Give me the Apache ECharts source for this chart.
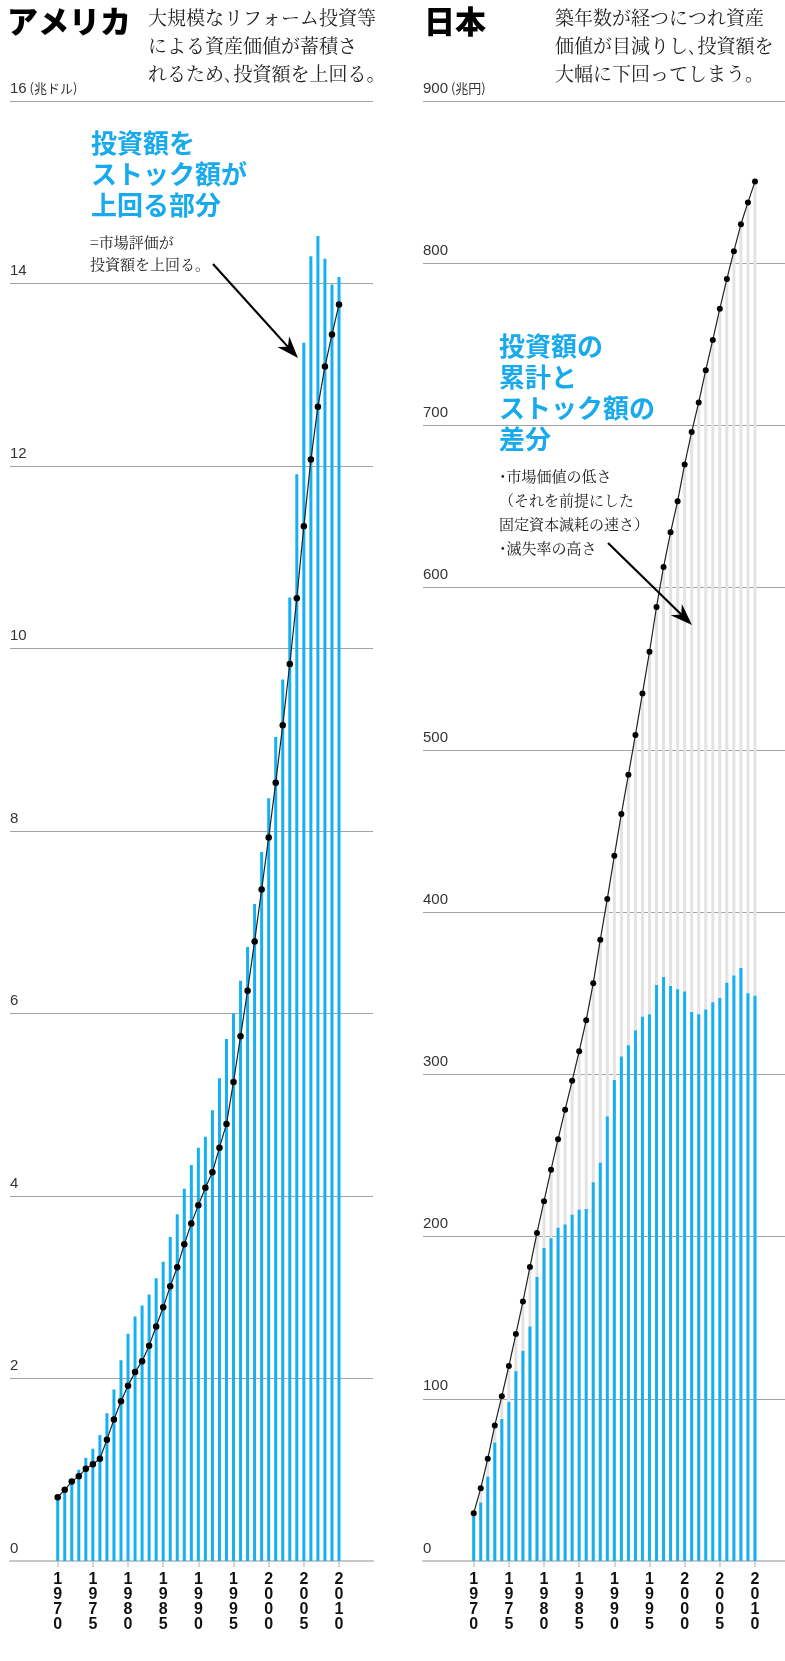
<!DOCTYPE html>
<html>
<head>
<meta charset="utf-8">
<script src="https://cdn.jsdelivr.net/npm/echarts@6/dist/echarts.min.js"></script>
<style>
  body { margin: 0; background: #fff; }
  #main { width: 785px; height: 1661px; }
</style>
</head>
<body>
<div id="main"></div>
<script>
var years = [1970,1971,1972,1973,1974,1975,1976,1977,1978,1979,
             1980,1981,1982,1983,1984,1985,1986,1987,1988,1989,
             1990,1991,1992,1993,1994,1995,1996,1997,1998,1999,
             2000,2001,2002,2003,2004,2005,2006,2007,2008,2009,2010];
var yearLabels = [1970,1975,1980,1985,1990,1995,2000,2005,2010];

// アメリカ (兆ドル)
var usStock = [0.72,0.79,0.88,1.00,1.13,1.23,1.38,1.62,1.88,2.20,
               2.49,2.68,2.80,2.92,3.10,3.28,3.55,3.80,4.08,4.34,
               4.53,4.65,4.94,5.29,5.72,6.00,6.36,6.73,7.20,7.77,
               8.36,9.03,9.66,10.56,11.91,13.35,14.30,14.52,14.27,13.99,14.07];
var usInvest = [0.70,0.78,0.87,0.93,1.01,1.06,1.12,1.33,1.55,1.75,
                1.92,2.07,2.19,2.36,2.57,2.78,3.01,3.22,3.47,3.70,
                3.90,4.09,4.26,4.53,4.79,5.25,5.75,6.25,6.79,7.36,
                7.93,8.53,9.16,9.83,10.55,11.34,12.07,12.65,13.09,13.44,13.77];

// 日本 (兆円)
var jpStock = [28,36,52,73,87.5,98,117,129.5,144.5,175,
               193,199,205.5,207.5,213.5,216.5,217,233.5,245.5,274,
               296.5,311,318,327,335.5,337,355,360,354.5,352.5,
               351,338.5,337,340,344.5,347,356.5,361,365.5,350,348.5];
var jpInvest = [29.5,44.8,63,83.6,101.6,120.2,139.9,159.9,181.2,202.2,
                221.8,241.2,260,278.2,296,314.2,333.4,356.2,382.9,408.1,
                434.7,460.5,484.6,509.2,534.8,560.5,588.1,612.8,634.1,653.3,
                676,696,714.2,734.1,752.7,772,790.2,807.4,824,837.5,850.3];

function pairs(vals) {
    return years.map(function (y, i) { return [y, vals[i]]; });
}

var BLUE = '#15b0f2';
var NUM_FONT = '"Liberation Sans", Arial, sans-serif';
var JP_SANS = '"Noto Sans CJK JP", sans-serif';
var JP_SERIF = '"Noto Serif CJK JP", "Noto Sans CJK JP", serif';

function xAxisFor(gi, min, max) {
    return {
        type: 'value', gridIndex: gi, min: min, max: max,
        splitLine: { show: false },
        axisLine: { show: true, lineStyle: { color: '#c8c8c8', width: 2 } },
        axisTick: { show: true, customValues: yearLabels, length: 6,
                    lineStyle: { color: '#c8c8c8', width: 1.5 } },
        axisLabel: {
            customValues: yearLabels, margin: 11,
            fontFamily: NUM_FONT, fontWeight: 'bold', fontSize: 16, lineHeight: 15, color: '#111',
            formatter: function (v) { return String(v).split('').join('\n'); }
        }
    };
}

function yAxisFor(gi, max, interval, unit) {
    return {
        type: 'value', gridIndex: gi, min: 0, max: max, interval: interval,
        axisLine: { show: false }, axisTick: { show: false },
        splitLine: { show: true, lineStyle: { color: '#a3a3a3', width: 1 } },
        axisLabel: {
            inside: true, margin: 0, verticalAlign: 'bottom', padding: [0, 0, 5, 0],
            fontFamily: NUM_FONT, fontSize: 15, color: '#333',
            formatter: function (v) { return v === max ? '{n|' + v + '}{u| ' + unit + '}' : String(v); },
            rich: {
                n: { fontFamily: NUM_FONT, fontSize: 15, color: '#333' },
                u: { fontFamily: JP_SANS, fontSize: 13, color: '#333' }
            }
        }
    };
}

function arrow(x1, y1, x2, y2) {
    var dx = x2 - x1, dy = y2 - y1, len = Math.sqrt(dx * dx + dy * dy);
    var ux = dx / len, uy = dy / len, px = -uy, py = ux;
    var hl = 22, hw = 8, notch = 15;
    return [
        { type: 'line', z: 100, shape: { x1: x1, y1: y1, x2: x2 - ux * notch, y2: y2 - uy * notch },
          style: { stroke: '#000', lineWidth: 2.2 } },
        { type: 'polygon', z: 100, shape: { points: [
            [x2, y2],
            [x2 - ux * hl + px * hw, y2 - uy * hl + py * hw],
            [x2 - ux * notch, y2 - uy * notch],
            [x2 - ux * hl - px * hw, y2 - uy * hl - py * hw]
          ] }, style: { fill: '#000' } }
    ];
}

function txt(x, y, text, size, weight, family, fill, lh) {
    return { type: 'text', x: x, y: y, z: 100,
             style: { text: text, fontSize: size, fontWeight: weight, fontFamily: family,
                      fill: fill, lineHeight: lh || size * 1.2, verticalAlign: 'top', align: 'left' } };
}

var graphics = [
    txt(7, 3, 'アメリカ', 31, 900, JP_SANS, '#000'),
    txt(148, 4, '大規模なリフォーム投資等\nによる資産価値が蓄積さ\nれるため､投資額を上回る。', 19, 'normal', JP_SERIF, '#222', 28),
    txt(424, 3, '日本', 31, 900, JP_SANS, '#000'),
    txt(555, 4, '築年数が経つにつれ資産\n価値が目減りし､投資額を\n大幅に下回ってしまう。', 19, 'normal', JP_SERIF, '#222', 28),
    txt(91, 128, '投資額を\nストック額が\n上回る部分', 26, 'bold', JP_SANS, '#18aaec', 31),
    txt(90, 231, '=市場評価が\n投資額を上回る。', 15, 'normal', JP_SERIF, '#222', 22),
    txt(499, 331, '投資額の\n累計と\nストック額の\n差分', 26, 'bold', JP_SANS, '#18aaec', 31),
    txt(499, 464, '･市場価値の低さ\n（それを前提にした\n固定資本減耗の速さ）\n･滅失率の高さ', 15, 'normal', JP_SERIF, '#222', 24)
].concat(arrow(213, 264, 298, 358)).concat(arrow(608, 543, 692, 625));

var myChart = echarts.init(document.getElementById('main'));
var option = {
    animation: false,
    backgroundColor: '#fff',
    grid: [
        { left: 10, top: 101, width: 363, height: 1460 },
        { left: 423, top: 101, width: 362, height: 1460 }
    ],
    xAxis: [
        xAxisFor(0, 1963.217, 2014.834),
        xAxisFor(1, 1962.79, 2014.27)
    ],
    yAxis: [
        yAxisFor(0, 16, 2, '(兆ドル)'),
        yAxisFor(1, 900, 100, '(兆円)')
    ],
    graphic: graphics,
    series: [
        { name: 'USストック', type: 'bar', xAxisIndex: 0, yAxisIndex: 0,
          barWidth: 3, itemStyle: { color: BLUE }, data: pairs(usStock) },
        { name: 'US投資累計', type: 'line', xAxisIndex: 0, yAxisIndex: 0, z: 5,
          symbol: 'circle', symbolSize: 6.5, itemStyle: { color: '#000' },
          lineStyle: { color: '#222', width: 1.2 }, data: pairs(usInvest) },
        { name: 'JP投資累計棒', type: 'bar', xAxisIndex: 1, yAxisIndex: 1,
          barWidth: 3, itemStyle: { color: '#e3e3e3' }, data: pairs(jpInvest) },
        { name: 'JPストック', type: 'bar', xAxisIndex: 1, yAxisIndex: 1,
          barWidth: 3, barGap: '-100%', itemStyle: { color: BLUE }, data: pairs(jpStock) },
        { name: 'JP投資累計', type: 'line', xAxisIndex: 1, yAxisIndex: 1, z: 5,
          symbol: 'circle', symbolSize: 6, itemStyle: { color: '#000' },
          lineStyle: { color: '#222', width: 1.2 }, data: pairs(jpInvest) }
    ]
};
myChart.setOption(option);
window.onresize = myChart.resize;
</script>
</body>
</html>
